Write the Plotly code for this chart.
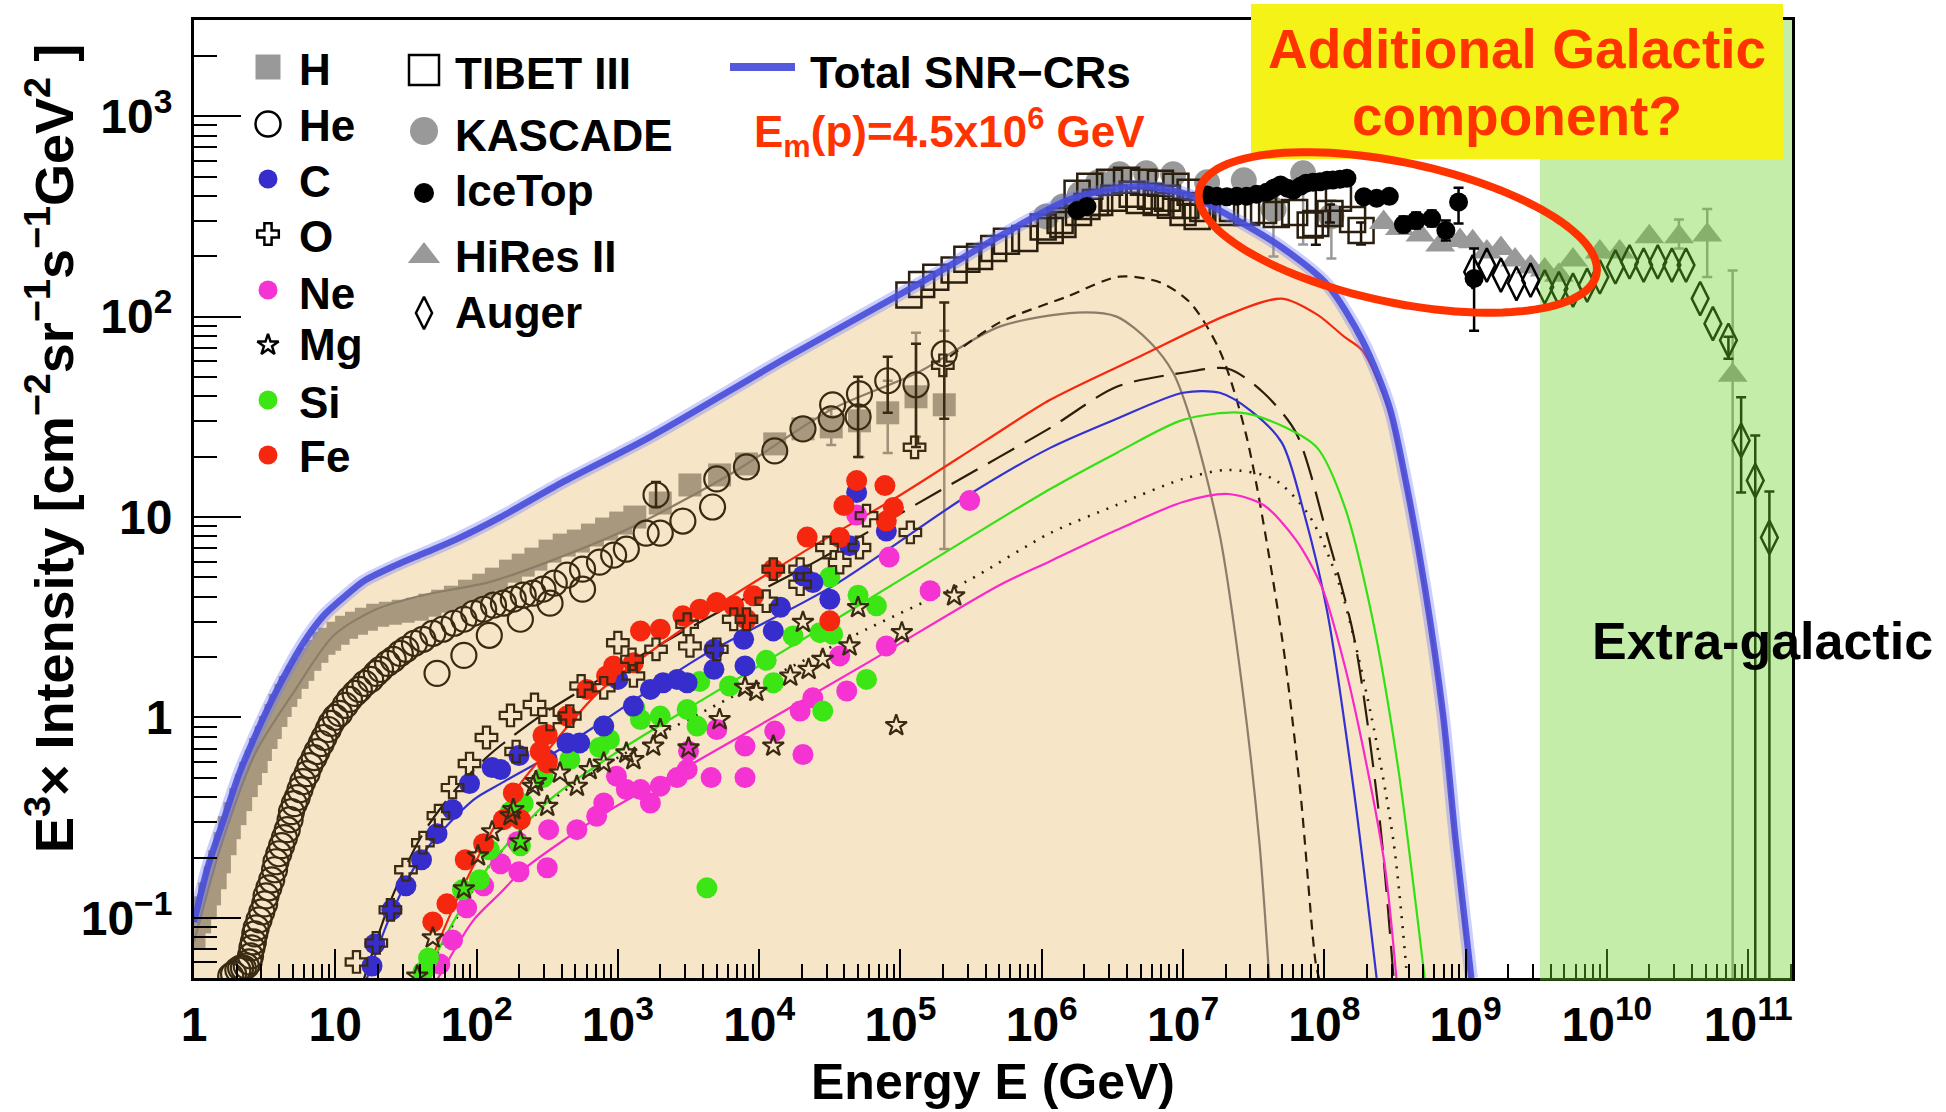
import numpy as np
import plotly.graph_objects as go

FONT = "Liberation Sans, Arial, Helvetica, sans-serif"

# ---------------------------------------------------------------------------
# Axis extents (log10 units) and page geometry (pixels)
# ---------------------------------------------------------------------------
LGE_MIN, LGE_MAX = 0.0, 11.31
LGI_MIN, LGI_MAX = -1.30, 3.48
W, H = 1946, 1112
ML, MR, MT, MB = 194, 154, 20, 134
PW, PH = W - ML - MR, H - MT - MB


def fx(xpix):
    """paper fraction from a pixel column"""
    return (xpix - ML) / PW


def fy(ypix):
    """paper fraction from a pixel row (rows counted from the top)"""
    return (H - MB - ypix) / PH


# ---------------------------------------------------------------------------
# Model curves: log10(E/GeV) and log10(E^3 x intensity)
# ---------------------------------------------------------------------------
total_lgE = [0.00, 0.10, 0.21, 0.32, 0.44, 0.56, 0.68, 0.80, 0.92, 1.06, 1.20, 1.43, 1.63, 1.86,
             2.17, 2.60, 3.23, 4.18, 5.12, 5.70, 6.18, 6.45, 6.70, 7.03, 7.36, 7.71, 8.02, 8.27,
             8.46, 8.58, 8.71, 8.84, 8.93, 9.04]
total_lgI = [-1.02, -0.74, -0.51, -0.28, -0.08, 0.10, 0.26, 0.40, 0.51, 0.60, 0.68, 0.76, 0.82, 0.89,
             1.00, 1.17, 1.40, 1.79, 2.16, 2.40, 2.58, 2.63, 2.65, 2.61, 2.49, 2.34, 2.16, 1.88,
             1.55, 1.165, 0.655, 0.015, -0.62, -1.30]

mH_lgE = [0.00, 0.20, 0.44, 0.70, 0.99, 1.29, 1.62, 2.09, 2.52, 3.10, 3.81, 4.52, 5.12, 5.70, 6.25,
          6.53, 6.77, 6.93, 7.07, 7.26, 7.42, 7.54, 7.61]
mH_lgI = [-1.12, -0.62, -0.17, 0.12, 0.41, 0.54, 0.61, 0.675, 0.78, 0.95, 1.22, 1.54, 1.72, 1.95,
          2.02, 2.00, 1.87, 1.72, 1.45, 0.91, 0.145, -0.62, -1.30]

mHe_lgE = [5.35, 5.70, 6.18, 6.55, 6.84, 7.05, 7.26, 7.45, 7.70, 7.83, 7.94, 7.97]
mHe_lgI = [1.80, 1.97, 2.10, 2.20, 2.17, 2.07, 1.83, 1.40, 0.40, -0.37, -1.23, -1.32]

mC_lgE = [1.22, 1.39, 1.62, 1.98, 2.17, 2.52, 2.87, 3.58, 4.52, 5.47, 6.06, 6.53, 7.00, 7.26,
          7.48, 7.70, 7.86, 8.02, 8.21, 8.37]
mC_lgI = [-1.31, -0.99, -0.68, -0.41, -0.33, -0.19, -0.03, 0.30, 0.655, 1.105, 1.345, 1.49, 1.62,
          1.62, 1.53, 1.37, 1.01, 0.53, -0.37, -1.30]

mO_lgE = [1.20, 1.40, 1.62, 1.85, 2.07, 2.17, 2.52, 3.58, 4.38, 5.40, 6.06, 6.53, 7.00, 7.32, 7.57,
          7.80, 8.02, 8.21, 8.39, 8.49]
mO_lgI = [-1.31, -0.90, -0.58, -0.36, -0.20, -0.14, 0.04, 0.475, 0.77, 1.18, 1.445, 1.65, 1.72,
          1.74, 1.62, 1.42, 0.91, 0.40, -0.50, -1.30]

mNe_lgE = [1.72, 1.98, 2.17, 2.33, 2.90, 3.58, 4.76, 5.70, 6.06, 6.53, 7.00, 7.32, 7.57, 7.80,
           7.98, 8.14, 8.30, 8.43, 8.51]
mNe_lgI = [-1.31, -1.01, -0.875, -0.76, -0.48, -0.21, 0.27, 0.66, 0.78, 0.935, 1.075, 1.115, 1.06,
           0.885, 0.655, 0.27, -0.24, -0.75, -1.30]

mMg_lgE = [1.62, 1.86, 2.09, 2.52, 3.00, 3.58, 4.76, 5.47, 6.06, 6.53, 7.00, 7.32, 7.64, 7.89,
           8.11, 8.33, 8.49, 8.58]
mMg_lgI = [-1.31, -1.00, -0.74, -0.42, -0.20, 0.02, 0.44, 0.68, 0.92, 1.06, 1.19, 1.235, 1.19,
           1.01, 0.655, 0.015, -0.62, -1.25]

mSi_lgE = [1.62, 1.86, 2.09, 2.52, 3.00, 3.58, 4.52, 5.47, 6.06, 6.53, 7.00, 7.42, 7.73, 7.95,
           8.14, 8.33, 8.52, 8.71]
mSi_lgI = [-1.31, -0.99, -0.74, -0.41, -0.17, 0.08, 0.48, 0.89, 1.14, 1.32, 1.485, 1.52, 1.445,
           1.345, 1.06, 0.53, -0.24, -1.30]

# Fe dominates the total above ~2e8 GeV and runs just inside the total curve there
mFe_lgE = [1.62, 1.86, 2.09, 2.30, 2.52, 2.87, 3.58, 4.30, 5.00, 5.60, 6.06, 6.69, 7.32, 7.70,
           7.95, 8.14, 8.27, 8.46, 8.58, 8.71, 8.84, 8.93, 9.03]
mFe_lgI = [-1.31, -0.91, -0.59, -0.34, -0.15, 0.13, 0.50, 0.82, 1.11, 1.38, 1.585, 1.80, 2.01,
           2.09, 2.01, 1.90, 1.83, 1.53, 1.15, 0.64, 0.00, -0.64, -1.30]

# ---------------------------------------------------------------------------
# Measured spectra (log10 E, log10 E^3 I)
# ---------------------------------------------------------------------------
H_lgE = [0.00, 0.04, 0.08, 0.11, 0.15, 0.18, 0.22, 0.25, 0.29, 0.33, 0.37, 0.40, 0.44, 0.47, 0.51,
         0.54, 0.58, 0.61, 0.65, 0.68, 0.73, 0.77, 0.82, 0.87, 0.92, 0.96, 1.02, 1.08, 1.15, 1.22,
         1.30, 1.39, 1.48, 1.58, 1.67, 1.76, 1.85, 1.95, 2.05, 2.14, 2.24, 2.33, 2.42, 2.52, 2.62,
         2.72, 2.82, 2.92, 3.02, 3.12, 3.30, 3.51, 3.72, 3.91, 4.11, 4.31, 4.51, 4.71, 4.91, 5.11,
         5.31]
H_lgI = [-1.10, -1.02, -0.95, -0.88, -0.80, -0.72, -0.63, -0.55, -0.48, -0.41, -0.34, -0.28, -0.22,
         -0.16, -0.10, -0.05, 0.01, 0.06, 0.11, 0.15, 0.20, 0.24, 0.29, 0.33, 0.37, 0.39, 0.42, 0.45,
         0.47, 0.49, 0.51, 0.52, 0.53, 0.54, 0.56, 0.58, 0.60, 0.63, 0.66, 0.69, 0.73, 0.76, 0.79,
         0.83, 0.86, 0.88, 0.91, 0.94, 0.97, 1.00, 1.07, 1.16, 1.21, 1.265, 1.365, 1.44, 1.45, 1.48,
         1.52, 1.60, 1.56]
H_err_lgE = [4.51, 4.71, 4.91, 5.11, 5.31]
H_err_lgI = [1.45, 1.48, 1.52, 1.60, 1.56]
H_err_hi = [1.54, 1.55, 1.68, 1.92, 1.93]
H_err_lo = [1.36, 1.30, 1.32, 1.40, 0.84]

He_lgE = [0.26, 0.28, 0.31, 0.33, 0.35, 0.37, 0.39, 0.40, 0.41, 0.42, 0.43, 0.44, 0.46, 0.48,
          0.50, 0.51, 0.53, 0.55, 0.57, 0.58, 0.60, 0.62, 0.64, 0.66, 0.68, 0.69, 0.71, 0.73, 0.75,
          0.77, 0.80, 0.82, 0.85, 0.87, 0.90, 0.92, 0.95, 0.97, 1.00, 1.03, 1.07, 1.10, 1.14, 1.17,
          1.21, 1.25, 1.29, 1.32, 1.37, 1.41, 1.46, 1.50, 1.56, 1.62, 1.69, 1.76, 1.84, 1.91, 1.98,
          2.05, 2.12, 2.19, 2.26, 2.33, 2.40, 2.47, 2.55, 2.64, 2.75, 2.87, 2.97, 3.06, 3.20,
          1.72, 1.91, 2.09, 2.31, 2.52, 2.75, 3.30, 3.46, 3.67,
          3.27, 3.70, 3.91, 4.11, 4.31, 4.51, 4.52, 4.71, 4.70, 4.91, 5.11, 5.31]
He_lgI = [-1.29, -1.28, -1.26, -1.25, -1.25, -1.24, -1.22, -1.19, -1.15, -1.12, -1.08, -1.05, -1.01,
          -0.97, -0.93, -0.89, -0.85, -0.81, -0.76, -0.72, -0.68, -0.64, -0.60, -0.56, -0.51, -0.47,
          -0.43, -0.40, -0.36, -0.32, -0.28, -0.24, -0.20, -0.17, -0.13, -0.10, -0.06, -0.03, 0.00,
          0.02, 0.06, 0.09, 0.12, 0.14, 0.17, 0.19, 0.22, 0.24, 0.27, 0.29, 0.32, 0.34, 0.37, 0.39,
          0.42, 0.44, 0.47, 0.49, 0.52, 0.54, 0.56, 0.57, 0.59, 0.61, 0.62, 0.64, 0.67, 0.71, 0.74,
          0.775, 0.81, 0.84, 0.92,
          0.22, 0.31, 0.41, 0.49, 0.57, 0.64, 0.92, 0.98, 1.05,
          1.11, 1.19, 1.25, 1.33, 1.44, 1.49, 1.56, 1.615, 1.50, 1.68, 1.66, 1.815]
He_err_lgE = [3.27, 4.70, 4.91, 5.11, 5.31]
He_err_lgI = [1.11, 1.50, 1.68, 1.66, 1.815]
He_err_hi = [1.175, 1.70, 1.80, 1.865, 2.07]
He_err_lo = [1.05, 1.30, 1.52, 1.35, 1.49]

C_lgE = [1.26, 1.28, 1.40, 1.50, 1.61, 1.72, 1.83, 1.95, 2.11, 2.17, 2.30, 2.50, 2.64, 2.73, 2.90,
         3.00, 3.11, 3.23, 3.32, 3.42, 3.49, 3.68, 3.68, 3.90, 3.89, 4.10, 4.15, 4.31, 4.38, 4.50,
         4.64, 4.69, 4.90]
C_lgI = [-1.24, -1.13, -0.96, -0.84, -0.71, -0.58, -0.46, -0.33, -0.25, -0.26, -0.19, -0.21, -0.127,
         -0.127, -0.043, 0.19, 0.057, 0.14, 0.173, 0.19, 0.173, 0.24, 0.34, 0.257, 0.39, 0.432, 0.55,
         0.707, 0.673, 0.59, 0.857, 1.123, 0.93]

O_lgE = [1.15, 1.29, 1.39, 1.50, 1.62, 1.73, 1.83, 1.95, 2.07, 2.24, 2.28, 2.41, 2.52, 2.66, 2.74,
         2.90, 3.00, 3.10, 3.11, 3.27, 3.49, 3.51, 3.70, 3.82, 3.91, 4.05, 4.10, 4.29, 4.29, 4.48,
         4.57, 4.71, 4.76, 5.07, 5.10, 5.30]
O_lgI = [-1.22, -1.125, -0.96, -0.76, -0.625, -0.49, -0.35, -0.23, -0.10, 0.01, -0.17, 0.065, -0.01,
         0.007, 0.157, 0.148, 0.373, 0.29, 0.207, 0.34, 0.465, 0.357, 0.34, 0.49, 0.49, 0.58, 0.74,
         0.74, 0.665, 0.848, 0.773, 0.848, 1.007, 0.923, 1.348, 1.757]

Ne_lgE = [1.74, 1.83, 1.93, 2.05, 2.17, 2.30, 2.29, 2.50, 2.51, 2.71, 2.85, 2.90, 2.99, 3.06, 3.16,
          3.23, 3.30, 3.42, 3.49, 3.50, 3.66, 3.70, 3.90, 3.90, 4.11, 4.29, 4.31, 4.38, 4.57, 4.62,
          4.69, 4.90, 4.92, 5.21, 5.49]
Ne_lgI = [-1.23, -1.11, -0.95, -0.84, -0.73, -0.77, -0.62, -0.75, -0.56, -0.56, -0.493, -0.427,
          -0.293, -0.36, -0.36, -0.427, -0.343, -0.30, -0.26, -0.168, -0.30, -0.06, -0.30, -0.143,
          -0.068, 0.032, -0.185, 0.098, 0.307, 0.132, 1.01, 0.357, 0.80, 0.632, 1.082]

Mg_lgE = [1.58, 1.69, 1.91, 2.01, 2.11, 2.24, 2.26, 2.31, 2.40, 2.42, 2.50, 2.59, 2.71, 2.80, 2.90,
          3.06, 3.11, 3.25, 3.30, 3.50, 3.72, 3.90, 3.98, 4.10, 4.22, 4.31, 4.35, 4.45, 4.64, 4.70,
          4.97, 5.01, 5.38]
Mg_lgI = [-1.29, -1.10, -0.855, -0.69, -0.57, -0.49, -0.46, -0.62, -0.343, -0.32, -0.443, -0.277,
          -0.343, -0.26, -0.227, -0.177, -0.21, -0.143, -0.06, -0.152, -0.01, 0.15, 0.13, -0.143,
          0.207, 0.475, 0.24, 0.29, 0.357, 0.548, -0.04, 0.423, 0.607]

Si_lgE = [1.62, 1.66, 1.90, 2.02, 2.09, 2.24, 2.31, 2.33, 2.47, 2.66, 2.87, 2.90, 2.94, 3.12, 3.16,
          3.30, 3.49, 3.56, 3.58, 3.63, 3.79, 4.05, 4.10, 4.24, 4.43, 4.45, 4.50, 4.52, 4.70, 4.76,
          4.83]
Si_lgI = [-1.27, -1.20, -0.86, -0.81, -0.66, -0.47, -0.64, -0.43, -0.30, -0.21, -0.15, -0.043,
          -0.11, 0.048, -0.01, 0.007, 0.04, -0.043, 0.18, -0.85, 0.157, 0.285, 0.173, 0.407, 0.423,
          0.032, 0.70, 0.415, 0.61, 0.19, 0.557]

Fe_lgE = [1.69, 1.79, 1.92, 2.05, 2.19, 2.26, 2.31, 2.45, 2.47, 2.50, 2.50, 2.64, 2.78, 2.92, 2.97,
          3.11, 3.16, 3.30, 3.46, 3.58, 3.70, 3.82, 3.91, 3.96, 4.10, 4.34, 4.50, 4.57, 4.60, 4.69,
          4.89, 4.95, 4.90]
Fe_lgI = [-1.02, -0.93, -0.71, -0.63, -0.51, -0.377, -0.51, -0.17, -0.09, -0.085, -0.227, 0.007,
          0.14, 0.207, 0.257, 0.273, 0.432, 0.44, 0.507, 0.54, 0.573, 0.557, 0.49, 0.607, 0.74,
          0.90, 0.482, 0.898, 1.057, 1.182, 1.157, 1.048, 0.98]

TIBET_lgE = [5.06, 5.15, 5.25, 5.38, 5.47, 5.56, 5.66, 5.75, 5.88, 6.01, 6.06, 6.13, 6.15, 6.26,
             6.25, 6.32, 6.34, 6.38, 6.41, 6.48, 6.51, 6.60, 6.64, 6.69, 6.72, 6.77, 6.81, 6.84,
             6.89, 6.91, 6.95, 7.00, 7.02, 7.05, 7.10, 7.14, 7.30, 7.35, 7.45, 7.57, 7.66, 7.79,
             7.90, 7.94, 8.04, 8.10, 8.20, 8.26]
TIBET_lgI = [2.108, 2.16, 2.197, 2.233, 2.286, 2.30, 2.34, 2.376, 2.39, 2.447, 2.43, 2.48, 2.46,
             2.52, 2.615, 2.55, 2.65, 2.57, 2.57, 2.67, 2.59, 2.68, 2.61, 2.58, 2.67, 2.60, 2.57,
             2.665, 2.59, 2.556, 2.65, 2.52, 2.555, 2.62, 2.50, 2.54, 2.52, 2.54, 2.52, 2.53, 2.51,
             2.52, 2.457, 2.465, 2.515, 2.59, 2.485, 2.43]
TIBET_err_lgE = [7.94, 8.04, 8.26]
TIBET_err_lgI = [2.465, 2.515, 2.43]
TIBET_err_hi = [2.644, 2.56, 2.47]
TIBET_err_lo = [2.358, 2.47, 2.36]

KASCADE_lgE = [6.03, 6.15, 6.27, 6.40, 6.55, 6.74, 6.93, 7.17, 7.43, 7.64, 7.85, 8.05]
KASCADE_lgI = [2.50, 2.55, 2.61, 2.67, 2.71, 2.715, 2.71, 2.67, 2.68, 2.535, 2.715, 2.50]
KASCADE_err_lgE = [7.64, 7.85, 8.05]
KASCADE_err_lgI = [2.535, 2.715, 2.50]
KASCADE_err_hi = [2.60, 2.77, 2.58]
KASCADE_err_lo = [2.30, 2.36, 2.29]

IceTop_lgE = [6.25, 6.32, 7.17, 7.24, 7.31, 7.38, 7.45, 7.52, 7.59, 7.64, 7.69, 7.74, 7.78, 7.83,
              7.87, 7.92, 7.97, 8.02, 8.06, 8.11, 8.16, 8.28, 8.37, 8.46, 8.56, 8.65, 8.76, 8.86,
              8.95, 9.06]
IceTop_lgI = [2.53, 2.55, 2.607, 2.60, 2.598, 2.60, 2.60, 2.61, 2.62, 2.64, 2.657, 2.64, 2.63,
              2.65, 2.665, 2.67, 2.673, 2.68, 2.682, 2.685, 2.69, 2.598, 2.59, 2.60, 2.46, 2.48,
              2.49, 2.43, 2.572, 2.19]
IceTop_err_lgE = [8.56, 8.65, 8.76, 8.86, 8.95, 9.06]
IceTop_err_lgI = [2.46, 2.48, 2.49, 2.43, 2.572, 2.19]
IceTop_err_hi = [2.50, 2.52, 2.53, 2.48, 2.643, 2.34]
IceTop_err_lo = [2.42, 2.44, 2.45, 2.38, 2.465, 1.93]

HiRes_lgE = [8.42, 8.535, 8.68, 8.82, 8.96, 9.05, 9.15, 9.25, 9.35, 9.46, 9.56, 9.66, 9.76, 9.95,
             10.09, 10.30, 10.51, 10.71, 10.89]
HiRes_lgI = [2.47, 2.44, 2.407, 2.357, 2.38, 2.373, 2.323, 2.34, 2.282, 2.248, 2.232, 2.207, 2.282,
             2.323, 2.323, 2.398, 2.398, 2.407, 1.707]
HiRes_err_lgE = [10.51, 10.71, 10.89]
HiRes_err_lgI = [2.398, 2.407, 1.707]
HiRes_err_hi = [2.485, 2.537, 2.23]
HiRes_err_lo = [2.34, 2.198, -1.6]

Auger_lgE = [9.05, 9.15, 9.25, 9.36, 9.46, 9.56, 9.66, 9.76, 9.86, 9.95, 10.06, 10.16, 10.26, 10.36,
             10.46, 10.56, 10.66, 10.75, 10.86, 10.95, 11.05, 11.15]
Auger_lgI = [2.223, 2.257, 2.207, 2.165, 2.182, 2.148, 2.14, 2.132, 2.157, 2.198, 2.248, 2.273,
             2.257, 2.273, 2.257, 2.257, 2.09, 1.965, 1.882, 1.382, 1.182, 0.898]
Auger_err_lgE = [10.86, 10.95, 11.05, 11.15]
Auger_err_lgI = [1.882, 1.382, 1.182, 0.898]
Auger_err_hi = [1.90, 1.598, 1.407, 1.127]
Auger_err_lo = [1.79, 1.123, -1.6, -1.6]

# Lower edge of the extra-galactic band (log10 E)
EXGAL_LGE = 9.526

# ---------------------------------------------------------------------------
# Colours
# ---------------------------------------------------------------------------
BROWN = "#3A2A12"
DARK = "#2B1E0A"
COL_H = "rgb(168,153,126)"
COL_C = "rgb(55,45,205)"
COL_NE = "rgb(245,50,210)"
COL_SI = "rgb(60,230,20)"
COL_FE = "rgb(245,40,15)"
GRAY = "rgb(153,153,153)"
BEIGE = "rgb(247,229,200)"
BLUE = "rgb(72,78,220)"
RED = "#FF3300"


def lin(v):
    return 10.0 ** np.asarray(v, dtype=float)


fig = go.Figure()

# Beige envelope under the total SNR spectrum
fig.add_trace(go.Scatter(
    x=lin(total_lgE + [9.10, -0.10]), y=lin(total_lgI + [-1.6, -1.6]),
    mode="lines", fill="toself", fillcolor=BEIGE,
    line=dict(width=0, shape="spline", color=BEIGE), hoverinfo="skip"))


def marker_trace(lgE, lgI, symbol, size, color, line_w=0, line_col=None):
    return go.Scatter(
        x=lin(lgE), y=lin(lgI), mode="markers",
        marker=dict(symbol=symbol, size=size, color=color,
                    line=dict(width=line_w, color=line_col or color)))


def error_trace(lgE, lgI, hi, lo, color, width=2.5, cap=5):
    y = lin(lgI)
    return go.Scatter(
        x=lin(lgE), y=y, mode="markers",
        marker=dict(size=1, color="rgba(0,0,0,0)"),
        error_y=dict(type="data", symmetric=False, array=lin(hi) - y, arrayminus=y - lin(lo),
                     color=color, thickness=width, width=cap))


def model_line(lgE, lgI, color, dash="solid", width=2.2):
    return go.Scatter(x=lin(lgE), y=lin(lgI), mode="lines",
                      line=dict(color=color, width=width, dash=dash, shape="spline", smoothing=0.8))


# Proton data (under the model lines)
fig.add_trace(error_trace(H_err_lgE, H_err_lgI, H_err_hi, H_err_lo, "rgb(160,145,120)", 2.5))
fig.add_trace(marker_trace(H_lgE, H_lgI, "square", 23, COL_H))

# Per-species model curves
fig.add_trace(model_line(mH_lgE, mH_lgI, "rgb(140,125,105)"))
fig.add_trace(model_line(mHe_lgE, mHe_lgI, DARK, dash="10px,7px"))
fig.add_trace(model_line(mO_lgE, mO_lgI, DARK, dash="30px,12px"))
fig.add_trace(model_line(mMg_lgE, mMg_lgI, DARK, dash="2px,8px", width=2.6))
fig.add_trace(model_line(mC_lgE, mC_lgI, "rgb(50,50,210)"))
fig.add_trace(model_line(mSi_lgE, mSi_lgI, "rgb(50,225,20)"))
fig.add_trace(model_line(mNe_lgE, mNe_lgI, "rgb(250,40,200)"))
fig.add_trace(model_line(mFe_lgE, mFe_lgI, COL_FE))

# Direct-measurement data for the heavier species
fig.add_trace(error_trace(He_err_lgE, He_err_lgI, He_err_hi, He_err_lo, BROWN, 2.5))
fig.add_trace(marker_trace(He_lgE, He_lgI, "circle-open", 25, BROWN, 2.2, BROWN))
fig.add_trace(marker_trace(Ne_lgE, Ne_lgI, "circle", 21, COL_NE))
fig.add_trace(marker_trace(Si_lgE, Si_lgI, "circle", 21, COL_SI))
fig.add_trace(marker_trace(C_lgE, C_lgI, "circle", 21, COL_C))
fig.add_trace(marker_trace(Fe_lgE, Fe_lgI, "circle", 21, COL_FE))
fig.add_trace(marker_trace(O_lgE, O_lgI, "cross-open", 18, BROWN, 2.2, BROWN))
fig.add_trace(marker_trace(Mg_lgE, Mg_lgI, "star-open", 16, BROWN, 2.2, BROWN))

# Air-shower data
fig.add_trace(error_trace(KASCADE_err_lgE, KASCADE_err_lgI, KASCADE_err_hi, KASCADE_err_lo, GRAY))
fig.add_trace(marker_trace(KASCADE_lgE, KASCADE_lgI, "circle", 26, GRAY))
fig.add_trace(error_trace(TIBET_err_lgE, TIBET_err_lgI, TIBET_err_hi, TIBET_err_lo, "#1A1208"))
fig.add_trace(marker_trace(TIBET_lgE, TIBET_lgI, "square-open", 25, "#2A1F0E", 2.5, "#2A1F0E"))
fig.add_trace(error_trace(HiRes_err_lgE, HiRes_err_lgI, HiRes_err_hi, HiRes_err_lo, GRAY))
fig.add_trace(marker_trace(HiRes_lgE, HiRes_lgI, "triangle-up", 26, GRAY))

# Total SNR cosmic-ray spectrum
fig.add_trace(go.Scatter(x=lin(total_lgE), y=lin(total_lgI), mode="lines", opacity=0.35,
                         line=dict(color="rgb(110,120,245)", width=13, shape="spline", smoothing=0.8)))
fig.add_trace(go.Scatter(x=lin(total_lgE), y=lin(total_lgI), mode="lines", opacity=0.9,
                         line=dict(color=BLUE, width=6.5, shape="spline", smoothing=0.8)))

fig.add_trace(error_trace(IceTop_err_lgE, IceTop_err_lgI, IceTop_err_hi, IceTop_err_lo, "black"))
fig.add_trace(marker_trace(IceTop_lgE, IceTop_lgI, "circle", 19, "black"))
fig.add_trace(error_trace(Auger_err_lgE, Auger_err_lgI, Auger_err_hi, Auger_err_lo, "black"))
fig.add_trace(marker_trace(Auger_lgE, Auger_lgI, "diamond-tall-open", 24, "black", 2.5, "black"))

# ---------------------------------------------------------------------------
# Legend keys, drawn on an overlay with unit axes
# ---------------------------------------------------------------------------
species_names = ["H", "He", "C", "O", "Ne", "Mg", "Si", "Fe"]
species_symbols = ["square", "circle-open", "circle", "cross-open", "circle", "star-open",
                   "circle", "circle"]
species_sizes = [25, 25, 19, 18, 19, 16, 19, 19]
species_colors = [GRAY, "black", COL_C, "black", COL_NE, "black", COL_SI, COL_FE]
species_key_rows = [67, 124, 179, 234, 290, 345, 400, 455]
species_text_rows = [69, 125, 182, 237, 293, 345, 402, 456]

expt_names = ["TIBET III", "KASCADE", "IceTop", "HiRes II", "Auger"]
expt_symbols = ["square-open", "circle", "circle", "triangle-up", "diamond-tall-open"]
expt_sizes = [30, 28, 20, 28, 23]
expt_colors = ["black", GRAY, "black", GRAY, "black"]
expt_key_rows = [70, 131, 193, 256, 313]
expt_text_rows = [73, 135, 190, 256, 312]


def key(xpix, ypix, symbol, size, color):
    open_sym = symbol.endswith("-open")
    return go.Scatter(x=[fx(xpix)], y=[fy(ypix)], xaxis="x2", yaxis="y2", mode="markers",
                      marker=dict(symbol=symbol, size=size, color=color,
                                  line=dict(width=2.5 if open_sym else 0, color=color)))


for sym, sz, col, row in zip(species_symbols, species_sizes, species_colors, species_key_rows):
    fig.add_trace(key(268, row, sym, sz, col))
for sym, sz, col, row in zip(expt_symbols, expt_sizes, expt_colors, expt_key_rows):
    fig.add_trace(key(424, row, sym, sz, col))
fig.add_trace(go.Scatter(x=[fx(730), fx(795)], y=[fy(67), fy(67)], xaxis="x2", yaxis="y2",
                         mode="lines", line=dict(color="rgb(85,90,220)", width=8)))

annotations = []


def text(s, xpix, ypix, size, color="black", xanchor="left", angle=0):
    annotations.append(dict(
        text=s, x=fx(xpix), y=fy(ypix), xref="paper", yref="paper", showarrow=False,
        xanchor=xanchor, yanchor="middle", textangle=angle,
        font=dict(family=FONT, size=size, color=color, weight="bold")))


for name, row in zip(species_names, species_text_rows):
    text(name, 297, row, 44)
for name, row in zip(expt_names, expt_text_rows):
    text(name, 453, row, 44)
text("Total SNR−CRs", 808, 72, 44)
text("E<sub>m</sub>(p)=4.5x10<sup>6</sup> GeV", 752, 133, 44, color=RED)
text("Additional Galactic", 1517, 49, 55, color=RED, xanchor="center")
text("component?", 1517, 116, 55, color=RED, xanchor="center")
text("Extra-galactic", 1590, 641, 52)
text("Energy E (GeV)", 993, 1082, 50, xanchor="center")
text("E<sup>3</sup>× Intensity [cm<sup>−2</sup>sr<sup>−1</sup>s<sup>−1</sup>GeV<sup>2</sup> ]",
     50, 449, 54, xanchor="center", angle=-90)

# ---------------------------------------------------------------------------
# Shapes: extra-galactic band, call-out box and ellipse around the knee data
# ---------------------------------------------------------------------------
shapes = []
x_band = (EXGAL_LGE - LGE_MIN) / (LGE_MAX - LGE_MIN)
shapes.append(dict(type="rect", xref="paper", yref="paper", x0=x_band, x1=1.0, y0=-0.003, y1=1.0,
                   fillcolor="rgba(105,210,38,0.4)", line=dict(width=0), layer="above"))
shapes.append(dict(type="rect", xref="paper", yref="paper", x0=fx(1251), x1=fx(1783),
                   y0=fy(159), y1=fy(4), fillcolor="#F5F218", line=dict(width=0), layer="above"))

ell_lgE, ell_lgI = 8.52, 2.42          # ellipse centre
ell_a, ell_b, ell_tilt = 203.0, 70.0, np.radians(11.9)   # pixel semi-axes and tilt
cxp = (ell_lgE - LGE_MIN) / (LGE_MAX - LGE_MIN)
cyp = (ell_lgI - LGI_MIN) / (LGI_MAX - LGI_MIN)
t = np.linspace(0, 2 * np.pi, 121)
dx = ell_a * np.cos(t) * np.cos(ell_tilt) - ell_b * np.sin(t) * np.sin(ell_tilt)
dy = ell_a * np.cos(t) * np.sin(ell_tilt) + ell_b * np.sin(t) * np.cos(ell_tilt)
ex, ey = cxp + dx / PW, cyp - dy / PH
path = "M " + " L ".join(f"{a:.5f},{b:.5f}" for a, b in zip(ex, ey)) + " Z"
shapes.append(dict(type="path", path=path, xref="paper", yref="paper",
                   line=dict(color=RED, width=8), layer="above"))

# ---------------------------------------------------------------------------
# Axes
# ---------------------------------------------------------------------------
x_major = [10.0 ** k for k in range(0, 12)]
x_text = ["1", "10"] + [f"10<sup>{k}</sup>" for k in range(2, 12)]
x_minor = [m * 10.0 ** k for k in range(0, 12) for m in range(2, 10)
           if np.log10(m * 10.0 ** k) < LGE_MAX]
y_major = [0.1, 1, 10, 100, 1000]
y_text = ["10<sup>−1</sup>", "1", "10", "10<sup>2</sup>", "10<sup>3</sup>"]
y_minor = [m * 10.0 ** k for k in range(-2, 4) for m in range(2, 10)
           if LGI_MIN < np.log10(m * 10.0 ** k) < LGI_MAX]

tickfont = dict(family=FONT, size=48, color="black", weight="bold")
common = dict(type="log", showgrid=False, zeroline=False, showline=True, linecolor="black",
              linewidth=3, mirror=True, ticks="inside", tickcolor="black", tickmode="array",
              automargin=False, tickfont=tickfont)

fig.update_layout(
    template="none",
    width=W, height=H,
    margin=dict(l=ML, r=MR, t=MT, b=MB, pad=0),
    paper_bgcolor="white", plot_bgcolor="white",
    showlegend=False,
    xaxis=dict(range=[LGE_MIN, LGE_MAX], tickvals=x_major, ticktext=x_text, ticklen=29,
               tickwidth=2.2, ticklabelstandoff=2,
               minor=dict(tickmode="array", tickvals=x_minor, ticks="inside", ticklen=14,
                          tickwidth=2, tickcolor="black", showgrid=False),
               **common),
    yaxis=dict(range=[LGI_MIN, LGI_MAX], tickvals=y_major, ticktext=y_text, ticklen=47,
               tickwidth=2.2, ticklabelstandoff=9,
               minor=dict(tickmode="array", tickvals=y_minor, ticks="inside", ticklen=23,
                          tickwidth=2, tickcolor="black", showgrid=False),
               **common),
    xaxis2=dict(overlaying="x", range=[0, 1], visible=False, fixedrange=True),
    yaxis2=dict(overlaying="y", range=[0, 1], visible=False, fixedrange=True),
    annotations=annotations,
    shapes=shapes,
)

fig.write_html("out.html")
